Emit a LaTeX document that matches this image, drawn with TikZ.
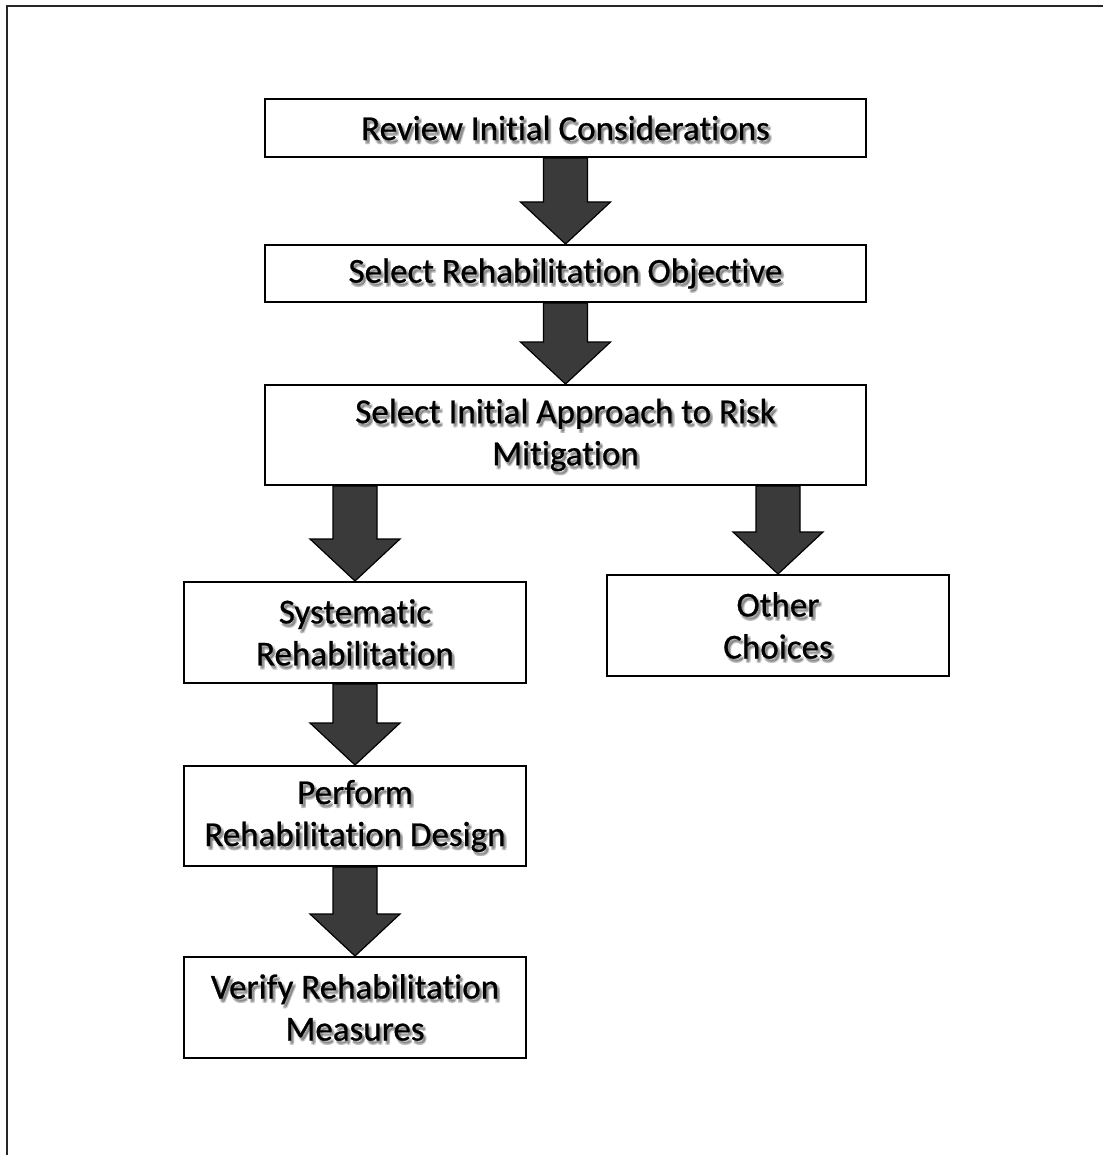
\documentclass[tikz,border=0pt]{standalone}
\usepackage{fontspec}
\setmainfont{Carlito}[Ligatures=NoCommon, FakeBold=0.7]
\usetikzlibrary{calc}

\definecolor{arrowgray}{HTML}{3A3A3A}

% Text of a box, drawn over a soft gray shadow and framed in black
\newcommand\boxlabel[4]{% name, centre, box size (w,h in pt), text
  \foreach \dx/\dy in {2/3, 3/2, 1.5/4, 3/4}
    \node[labelshadow] at ($(#2)+(\dx,\dy)$) {#4};
  \node[stepbox, minimum width=#3] (#1) at (#2) {#4};
}

% Thick block arrow running down from one box into the next
\newcommand\blockarrow[2]{%
  \filldraw[flowarrow]
    ($(#1.south -| #2.north)+(-22,0)$) -- ($(#1.south -| #2.north)+(22,0)$)
    -- ($(#2.north)+(22,-42)$) -- ($(#2.north)+(45,-42)$)
    -- (#2.north)
    -- ($(#2.north)+(-45,-42)$) -- ($(#2.north)+(-22,-42)$) -- cycle;
}

\tikzset{
  stepbox/.style={draw=black, line width=1pt, fill=none, rectangle,
    inner sep=0pt, align=center, font=\fontsize{17.5}{21}\selectfont},
  labelshadow/.style={inner sep=0pt, align=center, text=black,
    text opacity=0.13, font=\fontsize{17.5}{21}\selectfont},
  flowarrow/.style={fill=arrowgray, draw=black, line width=0.6pt},
  frame/.style={draw=black!85, line width=1.1pt},
}

\begin{document}
\begin{tikzpicture}[x=0.5pt,y=-0.5pt]
  \useasboundingbox (0,0) rectangle (1103,1155);
  \fill[white] (0,0) rectangle (1103,1155);

  % page frame
  \draw[frame] (7,1155) -- (7,6) -- (1103,6);

  % box centres
  \coordinate (c1) at (565.5,128);
  \coordinate (c2) at (565.5,273.5);
  \coordinate (c3) at (565.5,435);
  \coordinate (c4) at (355,632.5);
  \coordinate (c5) at (778,625.5);
  \coordinate (c6) at (355,816);
  \coordinate (c7) at (355,1007.5);

  \boxlabel{review}{c1}{300.5pt,minimum height=29pt}{Review Initial Considerations}
  \boxlabel{objective}{c2}{300.5pt,minimum height=28.5pt}{Select Rehabilitation Objective}
  \boxlabel{approach}{c3}{300.5pt,minimum height=50pt}{Select Initial Approach to Risk\\Mitigation}
  \boxlabel{systematic}{c4}{171pt,minimum height=50.5pt}{Systematic\\Rehabilitation}
  \boxlabel{other}{c5}{171pt,minimum height=50.5pt}{Other\\Choices}
  \boxlabel{design}{c6}{171pt,minimum height=50pt}{Perform\\Rehabilitation Design}
  \boxlabel{verify}{c7}{171pt,minimum height=50.5pt}{Verify Rehabilitation\\Measures}

  \blockarrow{review}{objective}
  \blockarrow{objective}{approach}
  \blockarrow{approach}{systematic}
  \blockarrow{approach}{other}
  \blockarrow{systematic}{design}
  \blockarrow{design}{verify}
\end{tikzpicture}
\end{document}
